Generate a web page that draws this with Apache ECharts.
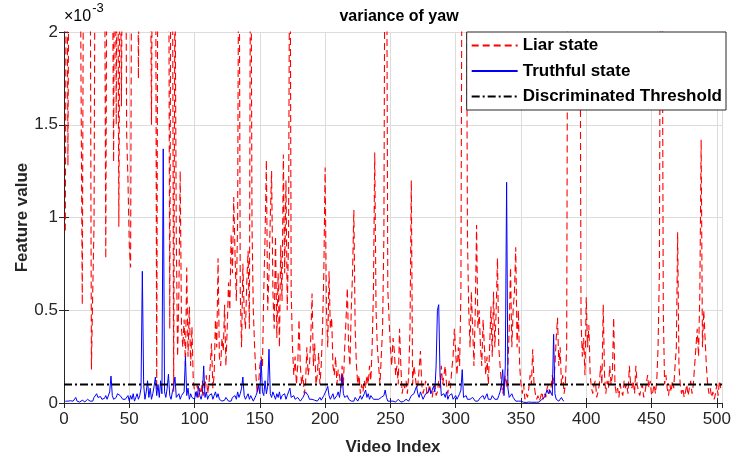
<!DOCTYPE html>
<html>
<head>
<meta charset="utf-8">
<script src="https://cdn.jsdelivr.net/npm/echarts@6/dist/echarts.min.js"></script>
<style>
html,body{margin:0;padding:0;background:#fff;}
#chart{width:734px;height:461px;}
</style>
</head>
<body>
<div id="chart"></div>
<script>
// Values are in units of 1e-3 (axis shows "×10^-3")
const liarValues = [
0.93,3.2,1.28,2.9,2.6,3.1,2.8,3.3,2.7,3.0,
2.9,3.2,1.79,0.53,2.7,3.1,2.8,3.2,3.0,2.7,
0.18,0.6,0.96,3.0,2.6,3.1,2.8,3.2,2.9,3.0,
2.7,0.78,2.9,3.1,2.8,3.2,2.6,1.3,3.0,1.5,
3.0,0.95,2.7,1.6,3.0,2.5,3.0,1.45,1.2,0.85,
0.73,3.0,2.8,3.2,2.9,3.1,1.75,3.0,2.7,3.1,
3.0,2.8,3.2,2.9,3.1,2.7,1.5,3.0,2.8,3.1,
0.07,2.9,3.2,2.8,3.1,3.0,2.7,3.2,2.9,3.1,
0.4,3.0,2.7,0.06,2.4,0.9,0.25,0.6,1.25,0.4,
0.3,0.45,0.2,0.73,0.25,0.52,0.2,0.41,0.12,0.06,
0.04,0.1,0.03,0.08,0.05,0.12,0.04,0.09,0.15,0.05,
0.1,0.2,0.32,0.08,0.15,0.45,0.3,0.78,0.25,0.2,
0.35,0.28,0.53,0.2,0.4,0.65,0.5,0.91,0.7,1.11,
0.8,0.55,1.0,3.0,0.6,0.3,0.75,0.5,0.4,0.65,
0.82,0.4,3.0,0.95,0.5,0.3,0.15,0.05,0.1,0.2,
0.25,0.2,0.6,0.9,1.31,0.5,0.7,1.0,1.25,0.6,
0.4,0.9,0.35,0.7,0.3,0.85,0.55,1.34,0.7,1.2,
0.5,0.9,3.0,0.6,0.3,0.15,0.25,0.1,0.2,0.45,
0.2,0.1,0.15,0.05,0.1,0.3,0.15,0.2,0.35,0.59,
0.2,0.32,0.1,0.15,0.27,0.1,0.2,0.4,0.7,1.27,
0.5,0.3,0.71,0.4,0.46,0.2,0.15,0.25,0.1,0.18,
0.15,0.08,0.2,0.1,0.3,0.45,0.62,0.3,0.2,0.5,
0.7,1.04,0.4,0.2,0.1,0.15,0.05,0.1,0.06,0.12,
0.08,0.15,0.1,0.2,0.12,0.3,0.6,1.35,0.5,0.3,
0.2,0.1,0.25,0.4,0.9,3.0,2.8,0.61,0.45,0.3,
0.2,0.35,0.28,0.15,0.2,0.1,0.4,0.2,0.05,0.1,
0.08,0.12,0.05,0.15,0.4,1.2,0.1,0.2,0.15,0.08,
0.1,0.18,0.28,0.1,0.05,0.08,0.12,0.04,0.06,0.1,
0.05,0.03,0.08,0.1,0.04,0.06,0.12,0.08,0.2,0.1,
0.15,0.2,0.1,0.05,0.12,0.08,0.18,0.25,0.4,0.28,
0.15,0.3,0.2,0.6,3.0,2.6,3.1,2.9,0.9,0.5,
0.3,0.6,0.4,0.2,0.5,0.96,0.4,0.5,0.3,0.2,
0.45,0.3,0.15,0.25,0.1,0.3,0.52,0.25,0.6,0.3,
0.5,0.78,0.3,0.2,0.1,0.05,0.1,0.15,0.08,0.2,
0.4,0.73,0.3,0.5,0.6,0.84,0.3,0.5,0.2,0.1,
0.05,0.1,0.02,0.05,0.03,0.08,0.15,0.1,0.29,0.1,
0.05,0.02,0.04,0.01,0.03,0.06,0.02,0.05,0.03,0.08,
0.1,0.05,0.08,0.15,0.1,0.2,0.35,0.46,0.2,0.3,
0.1,0.15,0.05,0.1,0.3,3.0,2.7,3.2,2.9,3.1,
2.8,3.0,2.6,3.1,2.9,0.45,0.25,0.35,0.15,0.57,
0.3,0.42,0.15,0.08,0.05,0.1,0.12,0.03,0.06,0.1,
0.2,0.1,0.53,0.15,0.05,0.12,0.08,0.2,0.1,0.15,
0.46,0.1,0.05,0.08,0.03,0.1,0.06,0.04,0.12,0.08,
0.1,0.05,0.2,0.1,0.08,0.12,0.05,0.2,0.1,0.06,
0.04,0.08,0.1,0.03,0.06,0.05,0.15,0.08,0.12,0.04,
0.06,0.1,0.05,0.12,0.3,0.7,3.0,2.8,0.5,0.1,
0.15,0.08,0.04,0.1,0.06,0.12,0.08,0.2,0.3,0.92,
0.2,0.1,0.05,0.08,0.03,0.06,0.1,0.04,0.08,0.12,
0.05,0.1,0.2,0.3,0.4,0.25,0.6,1.42,0.3,0.5,
0.35,0.2,0.1,0.05,0.08,0.03,0.06,0.02,0.05,0.1,
0.04,0.12,0.08
];
const truthValues = [
0.01,0.005,0.01,0.008,0.012,0.006,0.01,0.02,0.03,0.01,
0.008,0.005,0.01,0.015,0.01,0.006,0.01,0.02,0.015,0.01,
0.02,0.01,0.03,0.04,0.05,0.03,0.02,0.035,0.02,0.03,
0.025,0.04,0.02,0.03,0.06,0.145,0.04,0.02,0.015,0.03,
0.05,0.06,0.04,0.03,0.02,0.01,0.02,0.03,0.04,0.01,
0.04,0.02,0.05,0.01,0.03,0.05,0.02,0.04,0.08,0.71,
0.1,0.02,0.06,0.12,0.03,0.08,0.02,0.05,0.09,0.14,
0.04,0.1,0.03,0.12,0.05,1.37,0.06,0.03,0.08,0.155,
0.04,0.02,0.06,0.09,0.14,0.03,0.02,0.05,0.02,0.04,
0.03,0.06,0.25,0.04,0.08,0.02,0.05,0.03,0.04,0.02,
0.06,0.03,0.09,0.04,0.02,0.05,0.2,0.03,0.06,0.02,
0.04,0.03,0.05,0.02,0.04,0.06,0.03,0.05,0.02,0.03,
0.01,0.02,0.015,0.03,0.02,0.01,0.02,0.01,0.03,0.02,
0.04,0.02,0.06,0.03,0.05,0.08,0.14,0.04,0.02,0.03,
0.05,0.02,0.04,0.03,0.01,0.02,0.04,0.06,0.1,0.05,
0.23,0.06,0.04,0.12,0.05,0.09,0.29,0.05,0.03,0.06,
0.04,0.02,0.05,0.03,0.06,0.02,0.04,0.03,0.05,0.02,
0.04,0.06,0.08,0.03,0.02,0.04,0.02,0.01,0.03,0.02,
0.01,0.02,0.03,0.04,0.06,0.07,0.04,0.02,0.01,0.02,
0.01,0.015,0.02,0.01,0.02,0.03,0.015,0.02,0.04,0.05,
0.07,0.09,0.04,0.02,0.03,0.05,0.02,0.03,0.04,0.06,
0.03,0.08,0.15,0.05,0.03,0.02,0.04,0.02,0.03,0.01,
0.02,0.01,0.03,0.02,0.01,0.02,0.04,0.02,0.03,0.05,
0.07,0.03,0.05,0.02,0.04,0.03,0.02,0.01,0.02,0.015,
0.02,0.01,0.03,0.02,0.04,0.07,0.03,0.01,0.005,0.01,
0.005,0.01,0.008,0.005,0.01,0.02,0.01,0.005,0.01,0.008,
0.01,0.02,0.03,0.01,0.02,0.04,0.03,0.05,0.04,0.09,
0.05,0.03,0.06,0.04,0.02,0.03,0.05,0.04,0.06,0.08,
0.05,0.07,0.09,0.06,0.2,0.5,0.53,0.15,0.04,0.03,
0.05,0.03,0.06,0.02,0.04,0.03,0.05,0.02,0.03,0.04,
0.02,0.03,0.05,0.07,0.18,0.03,0.02,0.04,0.02,0.01,
0.02,0.01,0.03,0.02,0.01,0.02,0.01,0.02,0.03,0.02,
0.04,0.02,0.03,0.05,0.02,0.03,0.02,0.04,0.03,0.02,
0.03,0.02,0.04,0.06,0.1,0.18,0.04,0.2,1.19,0.08,
0.03,0.02,0.05,0.03,0.02,0.01,0.02,0.01,0.005,0.01,
0.005,0.004,0.005,0.003,0.004,0.005,0.003,0.004,0.006,0.004,
0.005,0.004,0.006,0.005,0.01,0.02,0.015,0.03,0.05,0.07,
0.05,0.07,0.06,0.04,0.37,0.05,0.02,0.03,0.01,0.02,
0.03,0.015,0.01
];
const thresholdValue = 0.1;
const xTicks = [0,50,100,150,200,250,300,350,400,450,500];
const yTicks = [0,0.5,1,1.5,2];
const xMin = 0, xMax = 504, yMin = 0, yMax = 2;

const liarData = liarValues.map((v,i)=>[i+1, v]);
const truthData = truthValues.map((v,i)=>[i+1, v]);
const thrData = [[xMin, thresholdValue],[xMax, thresholdValue]];

const FONT = '"Liberation Sans", Arial, Helvetica, sans-serif';
const AX = '#262626';
const chart = echarts.init(document.getElementById('chart'), null, {renderer:'canvas'});
const baseAxis = {
  axisLine:{show:true, lineStyle:{color:AX, width:1}},
  axisTick:{show:true, inside:true, length:5, lineStyle:{color:AX}},
};
chart.setOption({
  animation:false,
  backgroundColor:'#fff',
  title:{text:'variance of yaw', left:394, top:4, textAlign:'center',
    textStyle:{fontFamily:FONT, fontSize:16, fontWeight:'bold', color:'#000'}},
  graphic:[{type:'text', left:64, top:2,
    style:{text:'{a|×10}{b|-3}', rich:{a:{fontFamily:FONT,fontSize:16,color:AX, padding:[7,0,0,0]}, b:{fontFamily:FONT,fontSize:13,color:AX, verticalAlign:'top', padding:[0,0,8,1]}}}}],
  grid:{left:64, right:9, top:32, bottom:57, show:false},
  legend:{orient:'vertical', right:8, top:32, padding:[5,4,5,4], itemGap:8.5,
    itemWidth:46, itemHeight:17, backgroundColor:'#fff', borderColor:AX, borderWidth:1,
    itemStyle:{opacity:0},
    textStyle:{fontFamily:FONT, fontSize:17, fontWeight:'bold', color:'#000'},
    data:['Liar state','Truthful state','Discriminated Threshold']},
  xAxis:[
    Object.assign({}, baseAxis, {type:'value', min:xMin, max:xMax, interval:50,
      name:'Video Index', nameLocation:'middle', nameGap:36,
      nameTextStyle:{fontFamily:FONT, fontSize:17, fontWeight:'bold', color:AX},
      axisLabel:{fontFamily:FONT, fontSize:17, color:AX, margin:8, showMaxLabel:false,
        formatter:(v)=> xTicks.indexOf(v)>=0 ? String(v) : ''},
      splitLine:{show:true, lineStyle:{color:'#dcdcdc', width:1}}}),
    Object.assign({}, baseAxis, {type:'value', position:'top', min:xMin, max:xMax, interval:50,
      axisLabel:{show:false}, splitLine:{show:false}})
  ],
  yAxis:[
    Object.assign({}, baseAxis, {type:'value', min:yMin, max:yMax, interval:0.5,
      name:'Feature value', nameLocation:'middle', nameGap:33, nameRotate:90, nameMoveOverlap:false,
      nameTextStyle:{fontFamily:FONT, fontSize:17, fontWeight:'bold', color:AX},
      axisLabel:{fontFamily:FONT, fontSize:17, color:AX, margin:6,
        formatter:(v)=> yTicks.indexOf(v)>=0 ? String(v) : ''},
      splitLine:{show:true, lineStyle:{color:'#dcdcdc', width:1}}}),
    Object.assign({}, baseAxis, {type:'value', position:'right', min:yMin, max:yMax, interval:0.5,
      axisLabel:{show:false}, splitLine:{show:false}})
  ],
  series:[
    {name:'Liar state', type:'line', data:liarData, symbol:'none', showSymbol:false,
      clip:true, lineStyle:{color:'#ff0000', width:1.1, type:[7,4]}, itemStyle:{color:'#ff0000'}, z:2},
    {name:'Truthful state', type:'line', data:truthData, symbol:'none', showSymbol:false,
      clip:true, lineStyle:{color:'#0000ff', width:1}, itemStyle:{color:'#0000ff'}, z:3},
    {name:'Discriminated Threshold', type:'line', data:thrData, symbol:'none', showSymbol:false,
      clip:true, lineStyle:{color:'#000', width:2, type:[8,3,2,3]}, itemStyle:{color:'#000'}, z:4}
  ]
});
</script>
</body>
</html>
